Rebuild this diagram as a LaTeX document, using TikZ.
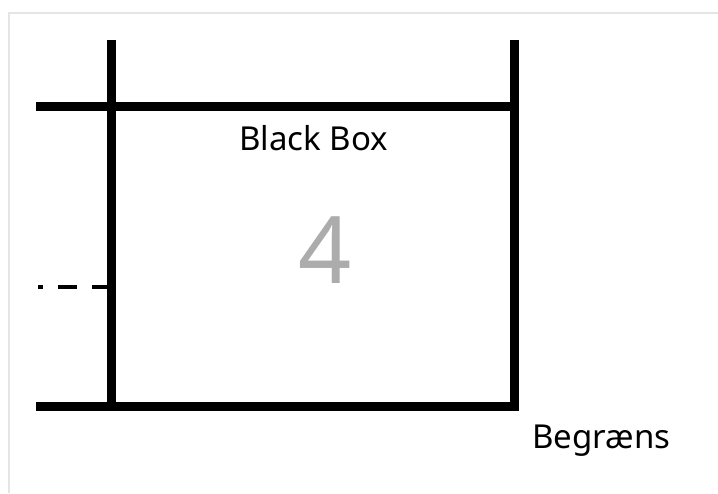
\documentclass[tikz,border=0pt]{standalone}
\usepackage{fontspec}
\setmainfont{Noto Sans}
\usepackage{tikz}
\usetikzlibrary{positioning, calc}

\begin{document}
\begin{tikzpicture}[x=1pt, y=-1pt,
    wall/.style={line width=9pt},
    label/.style={font=\fontsize{33}{38}\selectfont, inner sep=0pt},
  ]
  \useasboundingbox (0,0) rectangle (718,493);
  \fill[white] (0,0) rectangle (718,493);

  % ramme
  \draw[gray!20, line width=2pt] (9,493) -- (9,13) -- (718,13);

  % boksen
  \draw[wall] (111,40) -- (111,410);
  \draw[wall] (514,40) -- (514,410);
  \draw[wall] (36,106) -- (518.5,106);
  \draw[wall] (36,406) -- (518.5,406);

  % stiplet linje
  \draw[line width=3.5pt, dash pattern=on 19pt off 15pt, dash phase=14pt] (38,287) -- (107,287);

  % tekster
  \node[label, anchor=base] (bb) at (313.5,150) {Black Box};
  \node[font=\fontsize{93}{100}\selectfont, text=gray!65, inner sep=0pt, anchor=base] (nr) at (325,283) {4};
  \node[label, anchor=base] (gr) at (601.5,448) {Begræns};
\end{tikzpicture}
\end{document}
